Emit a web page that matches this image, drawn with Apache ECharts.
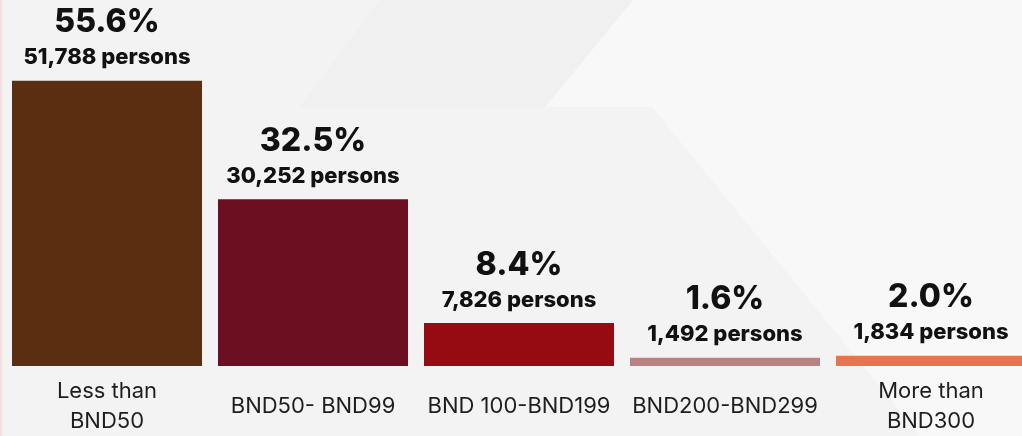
<!DOCTYPE html>
<html>
<head>
<meta charset="utf-8">
<script src="https://cdn.jsdelivr.net/npm/echarts@6/dist/echarts.min.js"></script>
<style>
  html, body { margin: 0; padding: 0; background: #f3f3f3; overflow: hidden; }
  #chart { width: 1034px; height: 436px; }
</style>
</head>
<body>
<div id="chart"></div>
<script>
// income bands
const categories = ['Less than\nBND50', 'BND50- BND99', 'BND 100-BND199', 'BND200-BND299', 'More than\nBND300'];
// share of persons, %
const shares = [55.6, 32.5, 8.4, 1.6, 2.0];
// number of persons
const persons = ['51,788', '30,252', '7,826', '1,492', '1,834'];
const barColors = ['#5b2d11', '#6c1021', '#960b11', '#b88284', '#e6744f'];

const chart = echarts.init(document.getElementById('chart'));

chart.setOption({
  backgroundColor: '#f3f3f3',
  animation: false,
  textStyle: { fontFamily: 'Inter, "Open Sans", sans-serif' },
  // faint background shapes
  graphic: [
    {
      type: 'polygon', z: -10, silent: true,
      shape: { points: [[633, 0], [1034, 0], [1034, 436], [920, 436], [652, 107], [545, 107]] },
      style: { fill: '#f8f8f8' }
    },
    {
      type: 'polygon', z: -10, silent: true,
      shape: { points: [[380, 0], [633, 0], [545, 107], [300, 107]] },
      style: { fill: '#f0f0f0' }
    },
    {
      type: 'rect', z: -10, silent: true,
      shape: { x: 0, y: 0, width: 2, height: 436 },
      style: { fill: '#f6dede' }
    }
  ],
  grid: { left: 4, top: 58.3, right: 0, bottom: 68 },
  xAxis: {
    type: 'category',
    data: categories,
    axisLine: { show: false },
    axisTick: { show: false },
    axisLabel: {
      interval: 0,
      margin: 40,
      verticalAlign: 'middle',
      fontSize: 22,
      lineHeight: 30,
      color: '#1e1e1e'
    }
  },
  yAxis: {
    type: 'value',
    min: 0,
    max: 60,
    show: false
  },
  series: [{
    type: 'bar',
    barWidth: 190,
    data: shares.map((v, i) => ({ value: v, itemStyle: { color: barColors[i] } })),
    label: {
      show: true,
      position: 'top',
      distance: 8,
      formatter: p => '{pct|' + p.value.toFixed(1) + '%}\n{num|' + persons[p.dataIndex] + ' persons}',
      rich: {
        pct: { fontSize: 32, fontWeight: 800, color: '#111', lineHeight: 40 },
        num: { fontSize: 22, fontWeight: 800, color: '#111', lineHeight: 30 }
      }
    }
  }]
});
</script>
</body>
</html>
